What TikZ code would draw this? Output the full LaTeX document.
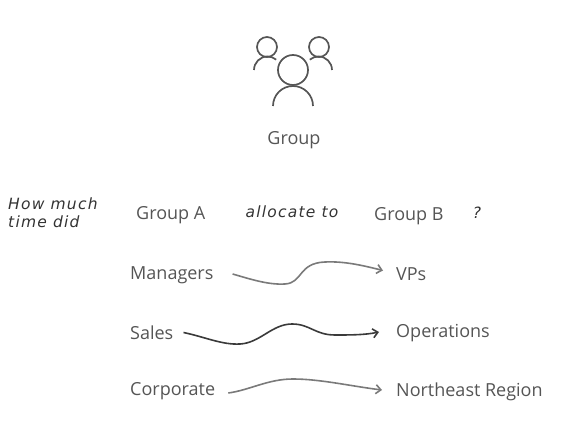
\documentclass[tikz,border=0pt]{standalone}
\usepackage{fontspec}
\setmainfont{Open Sans}
\newfontfamily\handfont[LetterSpace=8]{DejaVu Sans}
\usepackage{xcolor}
\usetikzlibrary{arrows.meta,positioning}
\definecolor{inkgray}{HTML}{555555}
\definecolor{darkflow}{HTML}{3A3A3A}
\definecolor{lightflow}{HTML}{7A7A7A}

\begin{document}
\begin{tikzpicture}[
    x=1pt, y=-1pt,
    node distance=0pt and 0pt,
    lbl/.style={inner sep=0pt, text=inkgray, font=\fontsize{18}{20}\selectfont, anchor=west},
    hand/.style={inner sep=0pt, text=black!80, align=left, font=\handfont\itshape\fontsize{15.5}{18}\selectfont},
    head/.style={draw=inkgray, line width=1.7pt, circle, inner sep=0pt},
    body/.style={draw=inkgray, line width=1.7pt},
    flowdark/.style={-{Straight Barb[length=5pt,width=9pt]}, draw=darkflow, line width=1.6pt},
    flowlight/.style={-{Straight Barb[length=5pt,width=9pt]}, draw=lightflow, line width=1.6pt}
]
\useasboundingbox (0,0) rectangle (584,430);
% icon
\node[head, minimum size=20pt] (headl) at (267,47) {};
\node[head, minimum size=20pt] (headr) at (319,47) {};
\node[head, minimum size=30pt] (headc) at (293,70) {};
\draw[body] (273,106) arc[start angle=180, end angle=360, radius=20];
\draw[body] (254,70) arc[start angle=180, end angle=310, radius=13.5];
\draw[body] (332,70) arc[start angle=360, end angle=230, radius=13.5];
\node[lbl, anchor=center] (group) at (294,140) {Group};
% header row
\node[hand, anchor=west] (howmuch) at (8,213) {How much\\time did};
\node[lbl] (groupa) at (136,215.5) {Group A};
\node[hand, anchor=center] (allocate) at (292,212) {allocate to};
\node[lbl] (groupb) at (374,216.5) {Group B};
\node[hand, anchor=center] (query) at (477,213) {?};
% rows
\node[lbl] (managers) at (130,275.5) {Managers};
\node[lbl] (vps) at (396,274.5) {VPs};
\node[lbl] (sales) at (130,332.5) {Sales};
\node[lbl] (operations) at (396,333.5) {Operations};
\node[lbl] (corporate) at (130,391.5) {Corporate};
\node[lbl] (northeast) at (396,391.5) {Northeast Region};
\draw[flowlight] ([xshift=19pt,yshift=1.5pt]managers.east) .. controls (250,279) and (268,285) .. (285,284) .. controls (303,283) and (298,263) .. (325,262) .. controls (345,261) and (365,266) .. ([xshift=-13pt,yshift=4pt]vps.west);
\draw[flowdark] ([xshift=10pt]sales.east) .. controls (205,337) and (222,345) .. (240,344) .. controls (260,343) and (272,324) .. (292,324) .. controls (310,324) and (315,335) .. (335,335) .. controls (350,335) and (365,335) .. ([xshift=-17pt,yshift=1.5pt]operations.west);
\draw[flowlight] ([xshift=13pt,yshift=-1.5pt]corporate.east) .. controls (250,390) and (268,379) .. (293,379) .. controls (320,379) and (350,386) .. ([xshift=-14pt,yshift=1.5pt]northeast.west);
\end{tikzpicture}
\end{document}
